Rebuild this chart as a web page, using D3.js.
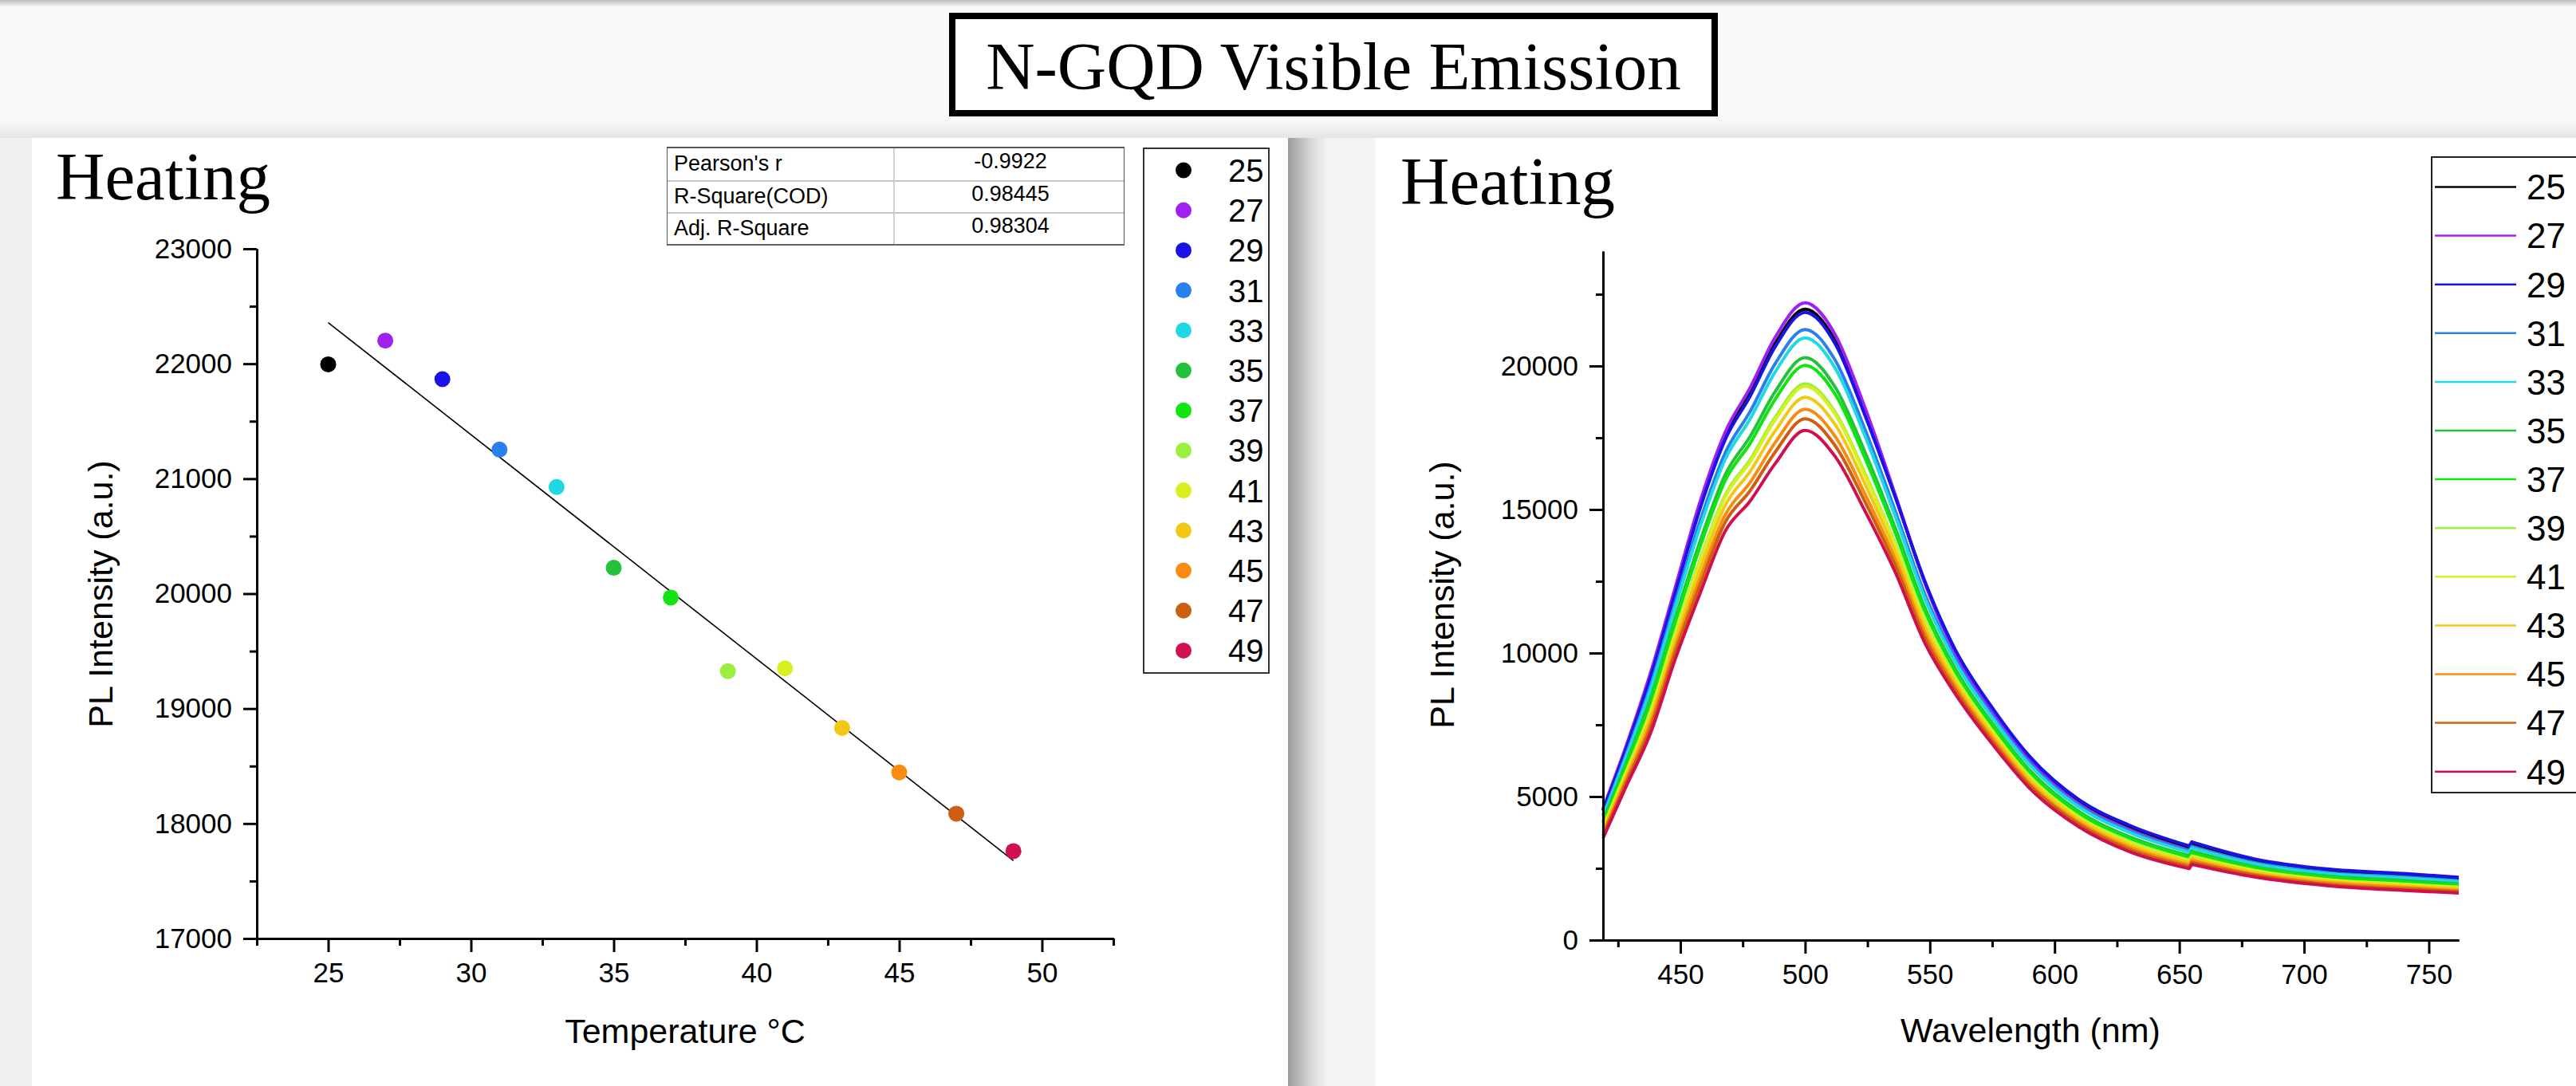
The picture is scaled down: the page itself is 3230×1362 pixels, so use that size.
<!DOCTYPE html>
<html>
<head>
<meta charset="utf-8">
<script src="https://cdn.jsdelivr.net/npm/d3@7"></script>
<style>
	html, body { margin: 0; padding: 0; background: #f8f8f8; overflow: hidden; }
	svg { display: block; }
</style>
</head>
<body>
<svg id="chart" width="3230" height="1362"></svg>
<script>

// temperatures (legend) and their colours
var temps = [25, 27, 29, 31, 33, 35, 37, 39, 41, 43, 45, 47, 49];
var colors = ['#000000', '#a020f0', '#1a12e6', '#2a7fef', '#1ed8e2', '#22c23c', '#12e412', '#9bef40', '#d8f020', '#f2c818', '#f88c10', '#cc5f12', '#d0104e'];

// left panel: peak PL intensity vs temperature
var peakIntensity = [21995, 22201, 21866, 21253, 20928, 20225, 19966, 19326, 19350, 18832, 18445, 18086, 17760];
var tempTicks = [25, 30, 35, 40, 45, 50];
var intensityTicks = [17000, 18000, 19000, 20000, 21000, 22000, 23000];

// fit statistics table
var statNames = ["Pearson's r", 'R-Square(COD)', 'Adj. R-Square'];
var statValues = ['-0.9922', '0.98445', '0.98304'];

// right panel: emission spectra (detector step between 654 and 655 nm)
var wavelengths = [419, 428, 438, 448, 458, 468, 478, 488, 500, 512, 524, 536, 548, 560, 575, 590, 610, 630, 654, 655, 680, 710, 740, 762];
var s25 = [4530, 6630, 9200, 12180, 15140, 17530, 19050, 20780, 21980, 20890, 18370, 15490, 12460, 10060, 8010, 6310, 4790, 3910, 3190, 3330, 2740, 2380, 2230, 2100];
var s27 = [4580, 6700, 9300, 12300, 15300, 17700, 19250, 21000, 22200, 21100, 18550, 15550, 12440, 10030, 7950, 6250, 4730, 3850, 3130, 3270, 2680, 2320, 2170, 2040];
var s29 = [4500, 6600, 9140, 12110, 15060, 17440, 18950, 20670, 21870, 20780, 18280, 15470, 12500, 10150, 8100, 6400, 4880, 4000, 3280, 3420, 2830, 2470, 2320, 2190];
var s31 = [4360, 6410, 8860, 11780, 14630, 16980, 18420, 20080, 21270, 20210, 17790, 14980, 12050, 9820, 7830, 6170, 4680, 3810, 3110, 3260, 2700, 2350, 2200, 2070];
var s33 = [4300, 6320, 8720, 11610, 14420, 16750, 18160, 19790, 20980, 19930, 17560, 14800, 11910, 9720, 7750, 6100, 4620, 3750, 3060, 3210, 2660, 2310, 2160, 2040];
var s35 = [4140, 6100, 8400, 11230, 13920, 16220, 17550, 19110, 20290, 19270, 17000, 14390, 11580, 9480, 7550, 5920, 4470, 3600, 2940, 3090, 2560, 2220, 2070, 1950];
var s37 = [4080, 6010, 8270, 11080, 13730, 16010, 17310, 18840, 20020, 19020, 16790, 14220, 11450, 9390, 7480, 5860, 4410, 3550, 2890, 3040, 2520, 2190, 2030, 1920];
var s39 = [3930, 5810, 7970, 10710, 13270, 15510, 16740, 18210, 19380, 18400, 16260, 13830, 11140, 9170, 7290, 5700, 4280, 3420, 2780, 2930, 2430, 2100, 1950, 1840];
var s41 = [3910, 5780, 7920, 10660, 13200, 15440, 16660, 18120, 19290, 18320, 16190, 13780, 11090, 9140, 7270, 5670, 4260, 3400, 2760, 2910, 2420, 2090, 1930, 1830];
var s43 = [3820, 5660, 7750, 10450, 12930, 15150, 16330, 17740, 18910, 17960, 15890, 13540, 10910, 9000, 7160, 5580, 4180, 3320, 2700, 2840, 2360, 2040, 1880, 1780];
var s45 = [3720, 5530, 7550, 10210, 12630, 14820, 15950, 17330, 18490, 17550, 15540, 13290, 10710, 8860, 7040, 5470, 4090, 3230, 2620, 2770, 2300, 1990, 1830, 1730];
var s47 = [3640, 5430, 7390, 10030, 12390, 14560, 15660, 17000, 18160, 17230, 15270, 13080, 10540, 8740, 6940, 5390, 4020, 3160, 2560, 2710, 2260, 1940, 1780, 1690];
var s49 = [3550, 5300, 7200, 9800, 12100, 14250, 15300, 16600, 17760, 16850, 14950, 12840, 10350, 8600, 6830, 5290, 3930, 3080, 2490, 2640, 2200, 1890, 1730, 1640];
var spectra = [s25, s27, s29, s31, s33, s35, s37, s39, s41, s43, s45, s47, s49];
var stepWavelength = 655;
var wlTicks = [450, 500, 550, 600, 650, 700, 750];
var plTicks = [0, 5000, 10000, 15000, 20000];

var SANS = '"Liberation Sans", Arial, sans-serif';
var SERIF = '"Liberation Serif", "Times New Roman", serif';

var svg = d3.select('#chart');
var defs = svg.append('defs');

function hgrad(id, stops) {
	var g = defs.append('linearGradient').attr('id', id).attr('x1', 0).attr('x2', 1).attr('y1', 0).attr('y2', 0);
	stops.forEach(function(s) { g.append('stop').attr('offset', s[0]).attr('stop-color', s[1]); });
}
function vgrad(id, stops) {
	var g = defs.append('linearGradient').attr('id', id).attr('x1', 0).attr('x2', 0).attr('y1', 0).attr('y2', 1);
	stops.forEach(function(s) { g.append('stop').attr('offset', s[0]).attr('stop-color', s[1]); });
}
vgrad('topband', [[0, '#bdbdbd'], [1, '#f9f9f9']]);
vgrad('panelTop', [[0, '#f9f9f9'], [1, '#e4e4e4']]);
hgrad('sideShadow', [[0, '#9c9c9c'], [0.25, '#b4b4b4'], [0.55, '#d4d4d4'], [1, '#f2f2f2']]);

// page background and panels
svg.append('rect').attr('x', 0).attr('y', 0).attr('width', 3230).attr('height', 1362).attr('fill', '#f9f9f9');
svg.append('rect').attr('x', 0).attr('y', 0).attr('width', 3230).attr('height', 9).attr('fill', 'url(#topband)');
svg.append('rect').attr('x', 0).attr('y', 152).attr('width', 3230).attr('height', 21).attr('fill', 'url(#panelTop)');
svg.append('rect').attr('x', 0).attr('y', 173).attr('width', 40).attr('height', 1189).attr('fill', '#f0f0f0');
svg.append('rect').attr('x', 1615).attr('y', 173).attr('width', 110).attr('height', 1189).attr('fill', '#f4f4f4');
svg.append('rect').attr('x', 1615).attr('y', 173).attr('width', 48).attr('height', 1189).attr('fill', 'url(#sideShadow)');
svg.append('rect').attr('x', 40).attr('y', 173).attr('width', 1575).attr('height', 1189).attr('fill', '#ffffff');
svg.append('rect').attr('x', 1725).attr('y', 173).attr('width', 1505).attr('height', 1189).attr('fill', '#ffffff');

// title box
svg.append('rect').attr('x', 1194).attr('y', 20).attr('width', 956).attr('height', 122)
	.attr('fill', '#ffffff').attr('stroke', '#000').attr('stroke-width', 8);
svg.append('text').attr('x', 1672).attr('y', 112).attr('text-anchor', 'middle')
	.style('font-family', SERIF).style('font-size', '85px').text('N-GQD Visible Emission');

// panel headings
svg.append('text').attr('x', 70).attr('y', 250).style('font-family', SERIF).style('font-size', '85px').text('Heating');
svg.append('text').attr('x', 1756).attr('y', 256).style('font-family', SERIF).style('font-size', '85px').text('Heating');

function styleAxis(g, size) {
	g.selectAll('path.domain').attr('stroke', '#000').attr('stroke-width', 3);
	g.selectAll('.tick line').attr('stroke', '#000').attr('stroke-width', 3);
	g.selectAll('.tick text').style('font-family', SANS).style('font-size', size + 'px').attr('fill', '#000');
}

function minorTicks(lo, hi, step) {
	var out = [];
	for (var v = lo; v <= hi + 1e-9; v += step) out.push(v);
	return out;
}

// ---------- left panel: scatter + linear fit ----------
var x1 = d3.scaleLinear().domain([22.5, 52.5]).range([322, 1396]);
var y1 = d3.scaleLinear().domain([17000, 23000]).range([1177, 312]);

var gx1m = svg.append('g').attr('transform', 'translate(0,1177)')
	.call(d3.axisBottom(x1).tickValues(minorTicks(22.5, 52.5, 5)).tickSize(9).tickSizeOuter(0).tickFormat(''));
styleAxis(gx1m, 35);
var gx1 = svg.append('g').attr('transform', 'translate(0,1177)')
	.call(d3.axisBottom(x1).tickValues(tempTicks).tickSize(17).tickSizeOuter(0).tickPadding(13).tickFormat(d3.format('d')));
styleAxis(gx1, 35);

var gy1m = svg.append('g').attr('transform', 'translate(322,0)')
	.call(d3.axisLeft(y1).tickValues(minorTicks(17500, 22500, 1000)).tickSize(9).tickSizeOuter(0).tickFormat(''));
styleAxis(gy1m, 35);
var gy1 = svg.append('g').attr('transform', 'translate(322,0)')
	.call(d3.axisLeft(y1).tickValues(intensityTicks).tickSize(17).tickSizeOuter(0).tickPadding(14).tickFormat(d3.format('d')));
styleAxis(gy1, 35);

svg.append('text').attr('x', 859).attr('y', 1308).attr('text-anchor', 'middle')
	.style('font-family', SANS).style('font-size', '43px').text('Temperature \u00B0C');
svg.append('text').attr('transform', 'translate(141,745) rotate(-90)').attr('text-anchor', 'middle')
	.style('font-family', SANS).style('font-size', '43px').text('PL Intensity (a.u.)');

// least squares fit from the data
var mx = d3.mean(temps), my = d3.mean(peakIntensity);
var sxy = d3.sum(temps, function(t, i) { return (t - mx) * (peakIntensity[i] - my); });
var sxx = d3.sum(temps, function(t) { return (t - mx) * (t - mx); });
var slope = sxy / sxx, icpt = my - slope * mx;
var fitX = d3.extent(temps);
svg.append('line')
	.attr('x1', x1(fitX[0])).attr('y1', y1(icpt + slope * fitX[0]))
	.attr('x2', x1(fitX[1])).attr('y2', y1(icpt + slope * fitX[1]))
	.attr('stroke', '#000').attr('stroke-width', 1.6);

svg.append('g').selectAll('circle').data(temps).enter().append('circle')
	.attr('cx', function(d) { return x1(d); })
	.attr('cy', function(d, i) { return y1(peakIntensity[i]); })
	.attr('r', 10)
	.attr('fill', function(d, i) { return colors[i]; });

// statistics table
var tbl = svg.append('g');
tbl.append('rect').attr('x', 836).attr('y', 184).attr('width', 574).attr('height', 124).attr('fill', '#fff');
tbl.append('line').attr('x1', 1121).attr('x2', 1121).attr('y1', 184).attr('y2', 308).attr('stroke', '#d0d0d0').attr('stroke-width', 2);
[227, 267].forEach(function(yy) {
	tbl.append('line').attr('x1', 836).attr('x2', 1410).attr('y1', yy).attr('y2', yy).attr('stroke', '#c8c8c8').attr('stroke-width', 2);
});
tbl.append('line').attr('x1', 836).attr('x2', 1410).attr('y1', 185).attr('y2', 185).attr('stroke', '#555').attr('stroke-width', 2);
tbl.append('line').attr('x1', 836).attr('x2', 1410).attr('y1', 307).attr('y2', 307).attr('stroke', '#666').attr('stroke-width', 2);
tbl.append('line').attr('x1', 836.5).attr('x2', 836.5).attr('y1', 184).attr('y2', 308).attr('stroke', '#555').attr('stroke-width', 1);
tbl.append('line').attr('x1', 1409.5).attr('x2', 1409.5).attr('y1', 184).attr('y2', 308).attr('stroke', '#555').attr('stroke-width', 1);
var rowBase = [214, 255, 295];
statNames.forEach(function(n, i) {
	tbl.append('text').attr('x', 845).attr('y', rowBase[i])
		.style('font-family', SANS).style('font-size', '27px').text(n);
	tbl.append('text').attr('x', 1267).attr('y', rowBase[i] - 3).attr('text-anchor', 'middle')
		.style('font-family', SANS).style('font-size', '27px').text(statValues[i]);
});

// left legend
var leg1 = svg.append('g');
leg1.append('rect').attr('x', 1434).attr('y', 186).attr('width', 157).attr('height', 658)
	.attr('fill', '#fff').attr('stroke', '#333').attr('stroke-width', 2);
temps.forEach(function(t, i) {
	var yy = 213.5 + i * 50.2;
	leg1.append('circle').attr('cx', 1484).attr('cy', yy).attr('r', 10).attr('fill', colors[i]);
	leg1.append('text').attr('x', 1540).attr('y', yy).attr('dy', '0.36em')
		.style('font-family', SANS).style('font-size', '40px').text(t);
});

// ---------- right panel: spectra ----------
var x2 = d3.scaleLinear().domain([419, 762]).range([2010, 3083]);
var y2 = d3.scaleLinear().domain([0, 24000]).range([1179, 315]);

var line = d3.line()
	.x(function(d) { return x2(d[0]); })
	.y(function(d) { return y2(d[1]); })
	.curve(d3.curveMonotoneX);

// the spectrum has a small detector jump; draw each side smoothly and join them straight
function spectrumPath(values) {
	var pts = wavelengths.map(function(w, i) { return [w, values[i]]; });
	var before = pts.filter(function(p) { return p[0] < stepWavelength; });
	var after = pts.filter(function(p) { return p[0] >= stepWavelength; });
	return line(before) + line(after).replace(/^M/, 'L');
}

svg.append('g').selectAll('path').data(spectra).enter().append('path')
	.attr('d', spectrumPath)
	.attr('fill', 'none')
	.attr('stroke', function(d, i) { return colors[i]; })
	.attr('stroke-width', 4)
	.attr('stroke-linejoin', 'round');

var gx2m = svg.append('g').attr('transform', 'translate(0,1179)')
	.call(d3.axisBottom(x2).tickValues(minorTicks(425, 725, 50)).tickSize(9).tickSizeOuter(0).tickFormat(''));
styleAxis(gx2m, 35);
var gx2 = svg.append('g').attr('transform', 'translate(0,1179)')
	.call(d3.axisBottom(x2).tickValues(wlTicks).tickSize(17).tickSizeOuter(0).tickPadding(13).tickFormat(d3.format('d')));
styleAxis(gx2, 35);

var gy2m = svg.append('g').attr('transform', 'translate(2010,0)')
	.call(d3.axisLeft(y2).tickValues(minorTicks(2500, 22500, 5000)).tickSize(9).tickSizeOuter(0).tickFormat(''));
styleAxis(gy2m, 35);
var gy2 = svg.append('g').attr('transform', 'translate(2010,0)')
	.call(d3.axisLeft(y2).tickValues(plTicks).tickSize(17).tickSizeOuter(0).tickPadding(14).tickFormat(d3.format('d')));
styleAxis(gy2, 35);

svg.append('text').attr('x', 2546).attr('y', 1307).attr('text-anchor', 'middle')
	.style('font-family', SANS).style('font-size', '43px').text('Wavelength (nm)');
svg.append('text').attr('transform', 'translate(1823,746) rotate(-90)').attr('text-anchor', 'middle')
	.style('font-family', SANS).style('font-size', '43px').text('PL Intensity (a.u.)');

// right legend
var leg2 = svg.append('g');
leg2.append('rect').attr('x', 3049).attr('y', 197).attr('width', 240).attr('height', 797)
	.attr('fill', '#fff').attr('stroke', '#222').attr('stroke-width', 2);
temps.forEach(function(t, i) {
	var yy = 234.5 + i * 61.1;
	leg2.append('line').attr('x1', 3053).attr('x2', 3155).attr('y1', yy).attr('y2', yy)
		.attr('stroke', colors[i]).attr('stroke-width', 2.5);
	leg2.append('text').attr('x', 3168).attr('y', yy).attr('dy', '0.36em')
		.style('font-family', SANS).style('font-size', '44px').text(t);
});

</script>
</body>
</html>
